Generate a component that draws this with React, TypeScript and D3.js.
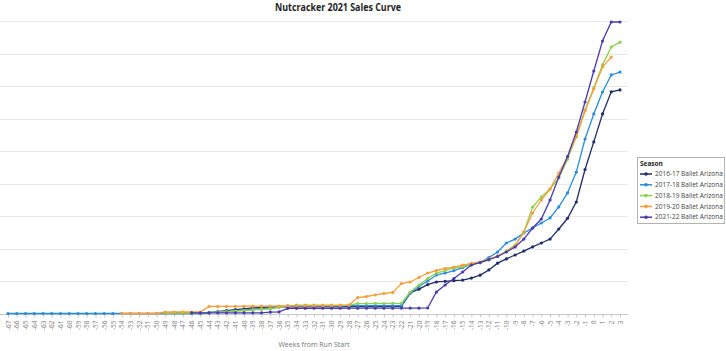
import React, { useEffect, useRef } from 'react';
import * as d3 from 'd3';

// weeks from run start, as printed on the axis
const weeks = [
    -67, -66, -65, -64, -63, -62, -61, -60, -59, -58, -57, -56, -55, -54, -53, -52, -51, -50, -49, -48, -47, -46,
    -45, -44, -43, -42, -41, -40, -39, -38, -37, -36, -35, -34, -33, -32, -31, -30, -29, -28, -27, -26, -25, -24,
    -23, -22, -21, -20, -19, -18, -17, -16, -15, -14, -13, -12, -11, -10, -9, -8, -7, -6, -5, -4, -3, -2, -1, 0,
    1, 2, 3,
];

// each season: first week with data, then cumulative sales per week
const start1617 = -48;
const sales1617 = [
    15, 15, 15, 20, 30, 60, 90, 120, 140, 170, 185, 200, 205, 205, 208, 208, 210, 210, 212, 212, 214, 214, 215, 216,
    216, 218, 220, 630, 750, 890, 970, 990, 1010, 1030, 1090, 1180, 1340, 1550, 1680, 1800, 1920, 2050, 2170, 2290,
    2600, 2930, 3430, 4430, 5280, 6140, 6820, 6880,
];

const start1718 = -67;
const sales1718 = [
    0, 0, 0, 0, 0, 0, 0, 0, 0, 0, 0, 0, 0, 0, 0, 0, 0, 0, 0, 0, 0, 0, 0, 30, 45, 60, 80, 100, 125, 150, 175, 200,
    235, 236, 237, 238, 238, 239, 239, 240, 240, 241, 242, 243, 244, 245, 631, 830, 1000, 1185, 1246, 1320, 1415,
    1508, 1570, 1723, 1890, 2170, 2290, 2480, 2630, 2785, 2940, 3280, 3710, 4350, 5370, 6140, 6815, 7340, 7430,
];

const start1819 = -49;
const sales1819 = [
    10, 10, 10, 15, 20, 30, 45, 60, 77, 92, 108, 125, 140, 185, 230, 255, 256, 257, 258, 259, 260, 262, 305, 306,
    307, 308, 310, 312, 660, 877, 1077, 1246, 1323, 1400, 1446, 1523, 1554, 1646, 1770, 1923, 2108, 2508, 3277, 3585,
    3830, 4170, 4750, 5460, 6260, 6940, 7650, 8200, 8350,
];

const start1920 = -54;
const sales1920 = [
    0, 0, 0, 0, 0, 46, 46, 46, 46, 46, 215, 217, 219, 221, 223, 225, 227, 229, 231, 233, 235, 237, 239, 241, 243,
    246, 260, 490, 523, 570, 615, 646, 923, 970, 1108, 1246, 1323, 1385, 1430, 1490, 1540, 1585, 1677, 1770, 1908,
    2077, 2508, 3092, 3492, 3830, 4323, 4815, 5430, 6230, 6908, 7585, 7890,
];

const start2122 = -46;
const sales2122 = [
    20, 20, 20, 20, 20, 20, 20, 20, 20, 40, 50, 160, 160, 160, 161, 161, 162, 162, 163, 163, 164, 164, 165, 165, 166,
    167, 168, 170, 660, 877, 1077, 1277, 1490, 1570, 1660, 1754, 1892, 2046, 2290, 2630, 2907, 3490, 4200, 4830, 5585,
    6508, 7460, 8385, 8970, 8970,
];

const seasonNames = [
    '2016-17 Ballet Arizona',
    '2017-18 Ballet Arizona',
    '2018-19 Ballet Arizona',
    '2019-20 Ballet Arizona',
    '2021-22 Ballet Arizona',
];
const seasonStarts = [start1617, start1718, start1819, start1920, start2122];
const seasonSales = [sales1617, sales1718, sales1819, sales1920, sales2122];
const seasonColors = ['#1f2d69', '#2a8ddb', '#8fd150', '#f99d3a', '#4a3bb0'];

const gridValues = [1000, 2000, 3000, 4000, 5000, 6000, 7000, 8000, 9000];

export default function App() {
    const ref = useRef<SVGSVGElement>(null);

    useEffect(() => {
        const width = 726;
        const height = 351;
        const svg = d3.select(ref.current);
        svg.selectAll('*').remove();
        svg.attr('width', width).attr('height', height);

        const font = "'Open Sans', 'Liberation Sans', sans-serif";

        const x = d3.scalePoint<number>().domain(weeks).range([8, 620]);
        const y = d3.scaleLinear().domain([0, 9000]).range([313.5, 21]);

        // title (squeezed a bit, the original uses a narrower face)
        svg.append('text')
            .attr('x', 338)
            .attr('y', 11)
            .attr('text-anchor', 'middle')
            .attr('font-family', font)
            .attr('font-weight', 'bold')
            .attr('font-size', 10.5)
            .attr('textLength', 126)
            .attr('lengthAdjust', 'spacingAndGlyphs')
            .attr('fill', '#252423')
            .text('Nutcracker 2021 Sales Curve');

        // grid
        svg.append('g')
            .selectAll('line')
            .data(gridValues)
            .enter()
            .append('line')
            .attr('x1', 0)
            .attr('x2', 628)
            .attr('y1', (d) => Math.round(y(d)) + 0.5)
            .attr('y2', (d) => Math.round(y(d)) + 0.5)
            .attr('stroke', '#eaeaea')
            .attr('stroke-width', 1);

        // x axis
        const xAxis = d3.axisBottom(x).tickSize(3).tickPadding(2).tickSizeOuter(0);
        const gX = svg.append('g').attr('transform', 'translate(0,314.5)').call(xAxis);
        gX.select('.domain').attr('stroke', '#c8c8c8').attr('d', 'M0,0H628');
        gX.selectAll('.tick line').attr('stroke', '#c8c8c8');
        gX.selectAll('.tick text')
            .attr('font-family', font)
            .attr('font-size', 6.5)
            .attr('fill', '#808080')
            .attr('transform', 'rotate(-90)')
            .attr('text-anchor', 'end')
            .attr('x', -6)
            .attr('y', 0)
            .attr('dy', '0.32em');

        svg.append('text')
            .attr('x', 314)
            .attr('y', 347)
            .attr('text-anchor', 'middle')
            .attr('font-family', font)
            .attr('font-size', 7)
            .attr('fill', '#777')
            .text('Weeks from Run Start');

        // series
        const line = d3
            .line<[number, number]>()
            .x((d) => x(d[0]) as number)
            .y((d) => y(d[1]));

        seasonSales.forEach((vals, i) => {
            const pts: [number, number][] = vals.map((v, j) => [seasonStarts[i] + j, v]);
            const g = svg.append('g');
            g.append('path')
                .attr('d', line(pts))
                .attr('fill', 'none')
                .attr('stroke', seasonColors[i])
                .attr('stroke-width', 1.3);
            g.selectAll('circle')
                .data(pts)
                .enter()
                .append('circle')
                .attr('cx', (d) => x(d[0]) as number)
                .attr('cy', (d) => y(d[1]))
                .attr('r', 1.6)
                .attr('fill', seasonColors[i]);
        });

        // legend
        const lg = svg.append('g');
        lg.append('rect')
            .attr('x', 637.5)
            .attr('y', 157.5)
            .attr('width', 87)
            .attr('height', 66)
            .attr('fill', '#fff')
            .attr('stroke', '#b3b3b3');
        lg.append('text')
            .attr('x', 640)
            .attr('y', 166)
            .attr('font-family', font)
            .attr('font-weight', 'bold')
            .attr('font-size', 6.5)
            .attr('fill', '#252423')
            .text('Season');
        seasonNames.forEach((name, i) => {
            const cy = 174 + i * 10.8;
            lg.append('line')
                .attr('x1', 640)
                .attr('x2', 652)
                .attr('y1', cy)
                .attr('y2', cy)
                .attr('stroke', seasonColors[i])
                .attr('stroke-width', 1.5);
            lg.append('circle').attr('cx', 646).attr('cy', cy).attr('r', 1.8).attr('fill', seasonColors[i]);
            lg.append('text')
                .attr('x', 655)
                .attr('y', cy)
                .attr('dy', '0.35em')
                .attr('font-family', font)
                .attr('font-size', 6.5)
                .attr('fill', '#444')
                .text(name);
        });
    }, []);

    return <svg ref={ref} style={{ position: 'absolute', left: 0, top: 0 }} />;
}
